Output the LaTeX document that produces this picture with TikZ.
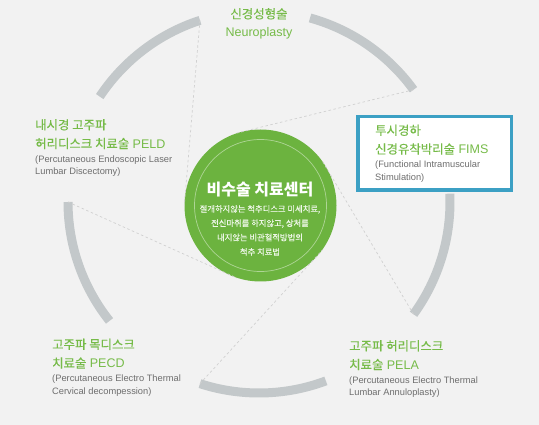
\documentclass[tikz,border=0pt]{standalone}
\usepackage{fontspec}
\setmainfont{Liberation Sans}
\newfontfamily\kr{Noto Sans CJK KR}
\newfontfamily\krm[FakeBold=0.25]{Noto Sans CJK KR}
\usetikzlibrary{calc,shadows}
\definecolor{bgcol}{HTML}{F2F2F2}
\definecolor{ringgray}{HTML}{C3C8CA}
\definecolor{dashgray}{HTML}{D0D0D0}
\definecolor{cgreen}{HTML}{6CB33F}
\definecolor{tgreen}{HTML}{76BB48}
\definecolor{tgray}{HTML}{6E6E6E}
\definecolor{boxblue}{HTML}{3CA0C4}
\definecolor{bodywhite}{HTML}{EEF7E8}
\newcommand\krt[1]{{\krm\fontsize{12.4}{14}\selectfont #1}}
\tikzset{
  ringarc/.style={draw=ringgray, line width=9pt},
  dashln/.style={draw=dashgray, line width=0.7pt, dash pattern=on 2.5pt off 2.5pt},
  kor/.style={anchor=base west, inner sep=0pt, text=tgreen, font=\fontsize{12.5}{14}\selectfont},
  eng/.style={anchor=base west, inner sep=0pt, text=tgray, font=\fontsize{9.3}{11}\selectfont},
  ctitle/.style={anchor=base, inner sep=0pt, text=white, font=\kr\bfseries\fontsize{16}{18}\selectfont},
  cbody/.style={anchor=base, inner sep=0pt, text=bodywhite, font=\krm\fontsize{8.3}{10}\selectfont},
  fimsbox/.style={draw=boxblue, line width=3.5pt, fill=white, inner sep=0pt,
    minimum width=153.5pt, minimum height=73.5pt,
    drop shadow={opacity=0.15, shadow xshift=1.5pt, shadow yshift=-2pt}},
}
\begin{document}
\begin{tikzpicture}[x=1pt,y=-1pt]
\fill[bgcol] (0,0) rectangle (539,425);
\useasboundingbox (0,0) rectangle (539,425);

\coordinate (rc) at (259,202);
% ring arcs (angles negated because y points down)
\foreach \a [count=\i] in {-108,-36,36,108,-180}{
  \coordinate (t\i) at ($(rc)+(\a:191)$);
  \draw[ringarc] (t\i) arc[start angle=\a, end angle=\a-38.5, radius=191];
}

% central circle
\node[circle, fill=cgreen, minimum size=152pt, inner sep=0pt] (green) at (260.5,205.5) {};
\draw[white, opacity=0.45, line width=0.7pt] (green.center) circle[radius=66];

% dashed lines
\draw[dashln] (t1) -- (green.180);
\draw[dashln] (t2) -- (green.108);
\draw[dashln] (t3) -- (green.36);
\draw[dashln] (t4) -- (green.-36);
\draw[dashln] (t5) -- (green.252);

% centre text
\node[ctitle] (ct) at (260,196) {비수술 치료센터};
\node[cbody] (cb1) at (260,212) {절개하지않는 척추디스크 미세치료,};
\node[cbody] (cb2) at (260,226.3) {전신마취를 하지않고, 상처를};
\node[cbody] (cb3) at (260,240.6) {내지않는 비관혈적방법의};
\node[cbody] (cb4) at (260,255) {척추 치료법};

% top: Neuroplasty
\node[anchor=base, inner sep=0pt, text=tgreen] (np1) at (259,18.5) {\krt{신경성형술}};
\node[anchor=base, inner sep=0pt, text=tgreen, font=\fontsize{12.5}{14}\selectfont] (np2) at (259,36.5) {Neuroplasty};

% PELD
\node[kor] (pd1) at (35,129.5) {\krt{내시경 고주파}};
\node[kor] (pd2) at (35,148.2) {\krt{허리디스크 치료술} PELD};
\node[eng] (pd3) at (35,162.2) {(Percutaneous Endoscopic Laser};
\node[eng] (pd4) at (35,174.8) {Lumbar Discectomy)};

% FIMS box
\node[fimsbox] (box) at (434.5,153.5) {};
\node[kor] (fm1) at (375,135) {\krt{투시경하}};
\node[kor] (fm2) at (375,153.7) {\krt{신경유착박리술} FIMS};
\node[eng] (fm3) at (375,167.7) {(Functional Intramuscular};
\node[eng] (fm4) at (375,180.3) {Stimulation)};

% PECD
\node[kor] (pc1) at (52,349) {\krt{고주파 목디스크}};
\node[kor] (pc2) at (52,367.7) {\krt{치료술} PECD};
\node[eng] (pc3) at (52,381.7) {(Percutaneous Electro Thermal};
\node[eng] (pc4) at (52,394.3) {Cervical decompession)};

% PELA
\node[kor] (pa1) at (349,350.5) {\krt{고주파 허리디스크}};
\node[kor] (pa2) at (349,369.2) {\krt{치료술} PELA};
\node[eng] (pa3) at (349,383.2) {(Percutaneous Electro Thermal};
\node[eng] (pa4) at (349,395.8) {Lumbar Annuloplasty)};
\end{tikzpicture}
\end{document}
